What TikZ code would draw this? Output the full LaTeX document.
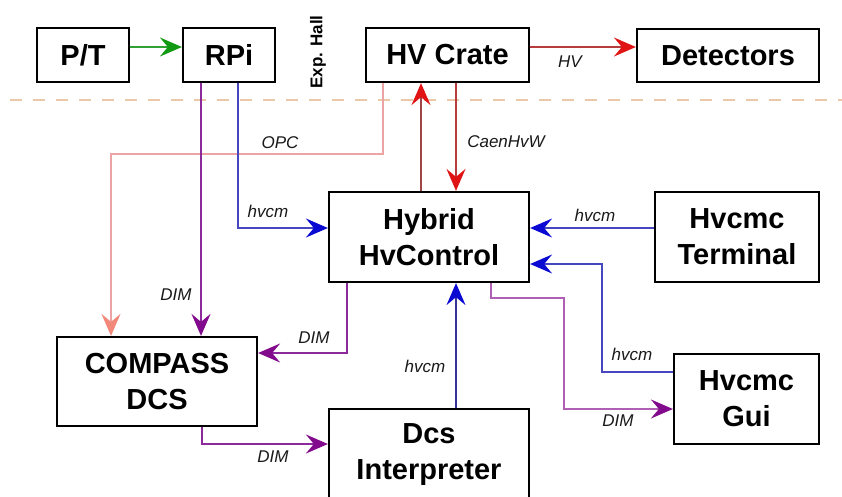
\documentclass[tikz,border=0pt]{standalone}
\usepackage{fontspec}
\setmainfont{Liberation Sans}
\usetikzlibrary{arrows.meta}
\definecolor{gline}{HTML}{33A033}
\definecolor{ghead}{HTML}{119911}
\definecolor{rline}{HTML}{B83C3C}
\definecolor{brline}{HTML}{A04545}
\definecolor{rhead}{HTML}{E01414}
\definecolor{pkline}{HTML}{EBA3A3}
\definecolor{pkhead}{HTML}{F2887A}
\definecolor{puline}{HTML}{8C2A9C}
\definecolor{puhead}{HTML}{820A8C}
\definecolor{ppline}{HTML}{B060B4}
\definecolor{bline}{HTML}{4646BE}
\definecolor{nline}{HTML}{34349A}
\definecolor{bhead}{HTML}{0A0AD2}
\definecolor{dashc}{HTML}{EBC8A8}
\begin{document}
\begin{tikzpicture}[x=1pt,y=-1pt,
  box/.style={draw=black,line width=2.2pt,fill=white,align=center,
    font=\fontsize{29}{36}\selectfont\bfseries,inner sep=0pt},
  lab/.style={font=\fontsize{17}{20}\selectfont\itshape,text=black!90,inner sep=0pt},
  conn/.style={line width=2pt},
  ah/.style={-{Stealth[length=22pt,width=19pt,inset=8pt,color=#1]}},
]
\useasboundingbox (0,0) rectangle (842,496);
\clip (0,0) rectangle (842,496);

% helper coordinates
\coordinate (x111) at (111,0);
\coordinate (x201) at (201,0);
\coordinate (x202) at (202,0);
\coordinate (x238) at (238,0);
\coordinate (x347) at (347,0);
\coordinate (x383) at (383,0);
\coordinate (x421) at (421,0);
\coordinate (x456) at (456,0);
\coordinate (x491) at (491,0);
\coordinate (x564) at (564,0);
\coordinate (x602) at (602,0);
\coordinate (y47) at (0,47);
\coordinate (y154) at (0,154);
\coordinate (y228) at (0,228);
\coordinate (y264) at (0,264);
\coordinate (y298) at (0,298);
\coordinate (y353) at (0,353);
\coordinate (y372) at (0,372);
\coordinate (y409) at (0,409);
\coordinate (y444) at (0,444);

% separator
\draw[dashc,line width=1.5pt,dash pattern=on 12pt off 11pt] (10,100) -- (842,100);

% boxes
\node[box,minimum width=92pt,minimum height=54pt] (pt) at (83,55) {P/T};
\node[box,minimum width=92pt,minimum height=54pt] (rpi) at (229,55) {RPi};
\node[box,minimum width=163pt,minimum height=54pt] (hv) at (447.5,55) {HV Crate};
\node[box,minimum width=182pt,minimum height=53pt] (det) at (728,55.5) {Detectors};
\node[box,minimum width=200pt,minimum height=90pt] (hyb) at (429,237) {Hybrid\\HvControl};
\node[box,minimum width=164pt,minimum height=90pt] (term) at (737,237) {Hvcmc\\Terminal};
\node[box,minimum width=200pt,minimum height=89pt] (cds) at (157,381.5) {COMPASS\\DCS};
\node[box,minimum width=145pt,minimum height=90pt] (gui) at (746.5,399) {Hvcmc\\Gui};
\node[box,minimum width=200pt,minimum height=91pt] (dcs) at (429,454.5) {Dcs\\Interpreter};

\node[font=\fontsize{17}{20}\selectfont\bfseries,rotate=90,inner sep=0pt] (exp) at (318,52) {Exp. Hall};

% connectors
\draw[conn,draw=gline,ah=ghead] (pt.east |- y47) -- (rpi.west |- y47);
\draw[conn,draw=rline,ah=rhead] (hv.east |- y47) -- (det.west |- y47);
\draw[conn,draw=pkline,ah=pkhead] (hv.south -| x383) |- (x111 |- y154) -- (cds.north -| x111);
\draw[conn,draw=puline,ah=puhead] (rpi.south -| x201) -- (cds.north -| x201);
\draw[conn,draw=bline,ah=bhead] (rpi.south -| x238) |- (hyb.west |- y228);
\draw[conn,draw=brline,ah=rhead] (hyb.north -| x421) -- (hv.south -| x421);
\draw[conn,draw=rline,ah=rhead] (hv.south -| x456) -- (hyb.north -| x456);
\draw[conn,draw=bline,ah=bhead] (term.west |- y228) -- (hyb.east |- y228);
\draw[conn,draw=bline,ah=bhead] (gui.west |- y372) -| (x602 |- y264) -- (hyb.east |- y264);
\draw[conn,draw=ppline,ah=puhead] (hyb.south -| x491) |- (x564 |- y298) |- (gui.west |- y409);
\draw[conn,draw=puline,ah=puhead] (hyb.south -| x347) |- (cds.east |- y353);
\draw[conn,draw=nline,ah=bhead] (dcs.north -| x456) -- (hyb.south -| x456);
\draw[conn,draw=puline,ah=puhead] (cds.south -| x202) |- (dcs.west |- y444);

% labels
\node[lab] (lhv) at (570,62) {HV};
\node[lab] (lopc) at (280,143) {OPC};
\node[lab] (lcaen) at (506,142) {CaenHvW};
\node[lab] (lhvcm1) at (268,211) {hvcm};
\node[lab] (lhvcm2) at (595,215) {hvcm};
\node[lab] (ldim1) at (176,295) {DIM};
\node[lab] (ldim2) at (314,338) {DIM};
\node[lab] (lhvcm3) at (632,354) {hvcm};
\node[lab] (lhvcm4) at (425,366) {hvcm};
\node[lab] (ldim3) at (618,421) {DIM};
\node[lab] (ldim4) at (273,457) {DIM};
\end{tikzpicture}
\end{document}
